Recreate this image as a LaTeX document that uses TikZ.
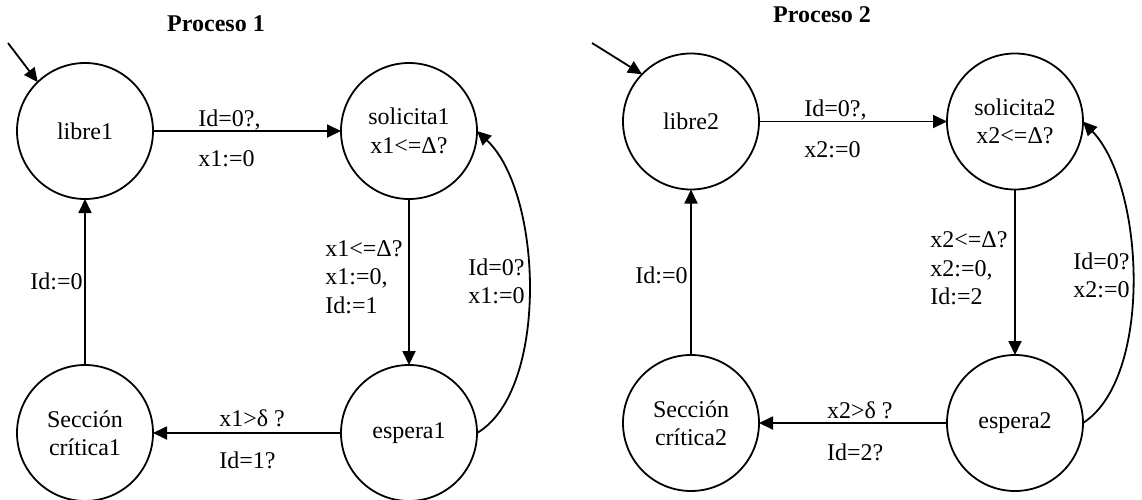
\documentclass[tikz,border=0pt]{standalone}
\usepackage{fontspec}
\setmainfont{Liberation Serif}
\usetikzlibrary{arrows.meta}
\begin{document}
\begin{tikzpicture}[x=0.5pt,y=-0.5pt,
  state/.style={circle,draw,line width=0.9pt,minimum size=68pt,inner sep=0pt,
    outer sep=0pt,align=center,font=\fontsize{12}{14.2}\selectfont},
  edge/.style={line width=0.9pt,-{Triangle[length=7pt,width=6.5pt]}},
  lbl/.style={inner sep=0pt,font=\fontsize{12}{14.2}\selectfont},
  multilbl/.style={lbl,align=left,anchor=north west},
  heading/.style={inner sep=0pt,anchor=base,font=\fontsize{12}{14}\selectfont\bfseries}]
\useasboundingbox (0,0) rectangle (1142,499);

% ---------- Proceso 1 ----------
\node[heading] (titulo1) at (216,31.5) {Proceso 1};
\node[state] (libre1)    at (85,131)  {libre1};
\node[state] (solicita1) at (409,131) {solicita1\\x1<=Δ?};
\node[state] (espera1)   at (409,433) {espera1};
\node[state] (critica1)  at (85,433)  {Sección\\crítica1};
\coordinate (init1) at (8,43);

\draw[edge] (init1) -- (libre1.134);
\draw[edge] (libre1) -- (solicita1);
\draw[edge] (solicita1) -- (espera1);
\draw[edge] (espera1) -- (critica1);
\draw[edge] (critica1) -- (libre1);
\draw[edge] (espera1.east) .. controls +(72,-42) and +(66,62) .. (solicita1.east);

\node[lbl,anchor=base west] (g1a) at (198,126)   {Id=0?,};
\node[lbl,anchor=base west] (g1b) at (198,166.5) {x1:=0};
\node[multilbl] (g1c) at (325,240) {x1<=Δ?\\x1:=0,\\Id:=1};
\node[multilbl] (g1d) at (468,258) {Id=0?\\x1:=0};
\node[lbl,anchor=base east] (g1e) at (83,289)    {Id:=0};
\node[lbl,anchor=base west] (g1f) at (219,426.5) {x1>δ ?};
\node[lbl,anchor=base west] (g1g) at (219,468)   {Id=1?};

% ---------- Proceso 2 ----------
\node[heading] (titulo2) at (822,22) {Proceso 2};
\node[state] (libre2)    at (691,121.5)  {libre2};
\node[state] (solicita2) at (1015,121.5) {solicita2\\x2<=Δ?};
\node[state] (espera2)   at (1015,423)   {espera2};
\node[state] (critica2)  at (691,423)    {Sección\\crítica2};
\coordinate (init2) at (592,43);

\draw[edge] (init2) -- (libre2.136);
\draw[edge] (libre2) -- (solicita2);
\draw[edge] (solicita2) -- (espera2);
\draw[edge] (espera2) -- (critica2);
\draw[edge] (critica2) -- (libre2);
\draw[edge] (espera2.east) .. controls +(70,-45) and +(62,65) .. (solicita2.east);

\node[lbl,anchor=base west] (g2a) at (804,116.5) {Id=0?,};
\node[lbl,anchor=base west] (g2b) at (804,157)   {x2:=0};
\node[multilbl] (g2c) at (930,231.5) {x2<=Δ?\\x2:=0,\\Id:=2};
\node[multilbl] (g2d) at (1073,252)  {Id=0?\\x2:=0};
\node[lbl,anchor=base east] (g2e) at (688,283)   {Id:=0};
\node[lbl,anchor=base west] (g2f) at (826.7,418.3) {x2>δ ?};
\node[lbl,anchor=base west] (g2g) at (826.7,460.7) {Id=2?};
\end{tikzpicture}
\end{document}
